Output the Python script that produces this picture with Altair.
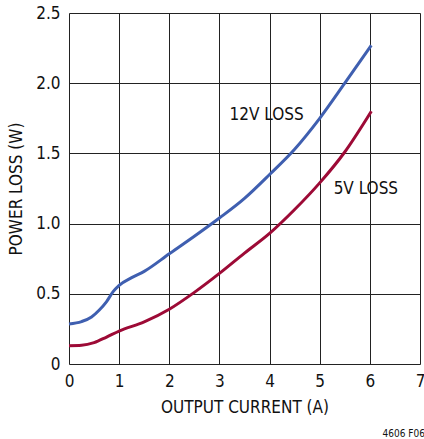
import altair as alt
import pandas as pd

x12 = [0, 0.25, 0.45, 0.6, 0.75, 0.88, 1.0, 1.25, 1.5, 2.0, 2.5, 3.0, 3.5, 4.0, 4.5, 5.0, 5.5, 6.03]
y12 = [0.285, 0.302, 0.335, 0.383, 0.445, 0.515, 0.56, 0.615, 0.66, 0.785, 0.91, 1.04, 1.18, 1.35, 1.53, 1.75, 2.00, 2.27]
x5 = [0, 0.25, 0.5, 0.75, 1.0, 1.5, 2.0, 2.5, 3.0, 3.5, 4.0, 4.5, 5.0, 5.5, 6.03]
y5 = [0.13, 0.133, 0.152, 0.192, 0.235, 0.30, 0.39, 0.51, 0.645, 0.79, 0.93, 1.10, 1.29, 1.51, 1.80]

label_text = ["12V LOSS", "5V LOSS"]
label_x = [3.94, 5.92]
label_y = [1.77, 1.25]

FONT = "DejaVu Sans Condensed, Roboto Condensed, Liberation Sans, sans-serif"

df = pd.concat([
    pd.DataFrame({"x": x12, "y": y12, "s": "12V"}),
    pd.DataFrame({"x": x5, "y": y5, "s": "5V"}),
])
lab = pd.DataFrame({"x": label_x, "y": label_y, "t": label_text})

xs = alt.Scale(domain=[0, 7], nice=False)
ys = alt.Scale(domain=[0, 2.5], nice=False)

lines = alt.Chart(df).mark_line(strokeWidth=3, interpolate="monotone").encode(
    x=alt.X("x:Q", scale=xs, title="OUTPUT CURRENT (A)",
            axis=alt.Axis(values=[0, 1, 2, 3, 4, 5, 6, 7], ticks=False, labelPadding=9,
                          grid=True, gridColor="#222", gridWidth=1, domain=False,
                          labelFontSize=17, titleFontSize=17, labelFont=FONT, titleFont=FONT,
                          labelColor="#111", titleColor="#111", titleFontWeight="normal",
                          titlePadding=10, labelFlush=False)),
    y=alt.Y("y:Q", scale=ys, title="POWER LOSS (W)",
            axis=alt.Axis(values=[0, 0.5, 1.0, 1.5, 2.0, 2.5], ticks=False, labelPadding=9,
                          labelExpr="datum.value == 0 ? '0' : format(datum.value, '.1f')",
                          grid=True, gridColor="#222", gridWidth=1, domain=False,
                          labelFontSize=17, titleFontSize=17, labelFont=FONT, titleFont=FONT,
                          labelColor="#111", titleColor="#111", titleFontWeight="normal",
                          titlePadding=10, labelFlush=False)),
    color=alt.Color("s:N", scale=alt.Scale(domain=["12V", "5V"], range=["#3f5fb0", "#9d0a36"]),
                    legend=None),
)

texts = alt.Chart(lab).mark_text(fontSize=17, font=FONT, color="#111").encode(
    x=alt.X("x:Q", scale=xs), y=alt.Y("y:Q", scale=ys), text="t:N"
)

chart = (lines + texts).properties(
    width=351, height=351,
    autosize=alt.AutoSizeParams(type="none"),
    padding={"left": 69, "top": 13, "right": 4, "bottom": 75},
    title=alt.TitleParams("4606 F06", orient="bottom", anchor="end", fontSize=10,
                          font=FONT, fontWeight="normal", color="#111", offset=14),
).configure_view(stroke="#111", strokeWidth=2).configure(background="white")

chart.save("out.html", embed_options={"renderer": "svg", "actions": False})
